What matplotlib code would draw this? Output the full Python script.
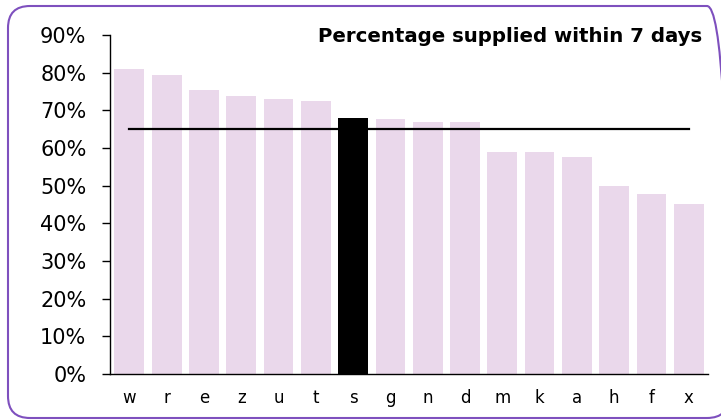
import matplotlib
matplotlib.use("Agg")
import matplotlib.pyplot as plt
from matplotlib.patches import FancyBboxPatch
from matplotlib.ticker import FuncFormatter

categories = ["w", "r", "e", "z", "u", "t", "s", "g", "n", "d", "m", "k", "a", "h", "f", "x"]
values = [81.0, 79.5, 75.3, 73.9, 72.9, 72.6, 68.0, 67.7, 66.9, 66.9, 58.9, 58.9, 57.6, 49.9, 47.9, 45.0]
highlight = "s"
benchmark = 65.1
title = "Percentage supplied within 7 days"

plt.rcParams["font.family"] = ["DejaVu Sans"]

fig = plt.figure(figsize=(7.21, 4.2), dpi=100)
ax = fig.add_axes([0.1526, 0.1095, 0.829, 0.8072])

x = list(range(len(categories)))
colors = ["#000000" if c == highlight else "#EAD8EB" for c in categories]
ax.bar(x, values, width=0.8, color=colors, zorder=2)
ax.plot([x[0], x[-1]], [benchmark, benchmark], color="black", lw=1.6, zorder=3)

ax.set_xlim(-0.52, len(categories) - 0.49)
ax.set_ylim(0, 90)
ax.set_yticks(range(0, 91, 10))
ax.yaxis.set_major_formatter(FuncFormatter(lambda v, p: f"{v:.0f}%"))
ax.set_xticks(x)
ax.set_xticklabels(categories)

ax.tick_params(axis="y", length=6, width=1, pad=11, labelsize=15, direction="out")
ax.tick_params(axis="x", length=0, pad=11, labelsize=12)
for s in ("top", "right"):
    ax.spines[s].set_visible(False)
for s in ("left", "bottom"):
    ax.spines[s].set_linewidth(1)

ax.text(0.99, 0.995, title, transform=ax.transAxes, ha="right", va="center",
        fontsize=14.2, fontweight="bold")

# rounded frame around the chart (coordinates in inches)
frame = FancyBboxPatch((0.08, 0.02), 7.21, 4.12,
                       boxstyle="round,pad=0,rounding_size=0.22",
                       transform=fig.dpi_scale_trans, fill=False,
                       edgecolor="#7E50BE", lw=1.5, clip_on=False)
fig.patches.append(frame)

fig.savefig("out.png", dpi=100)
